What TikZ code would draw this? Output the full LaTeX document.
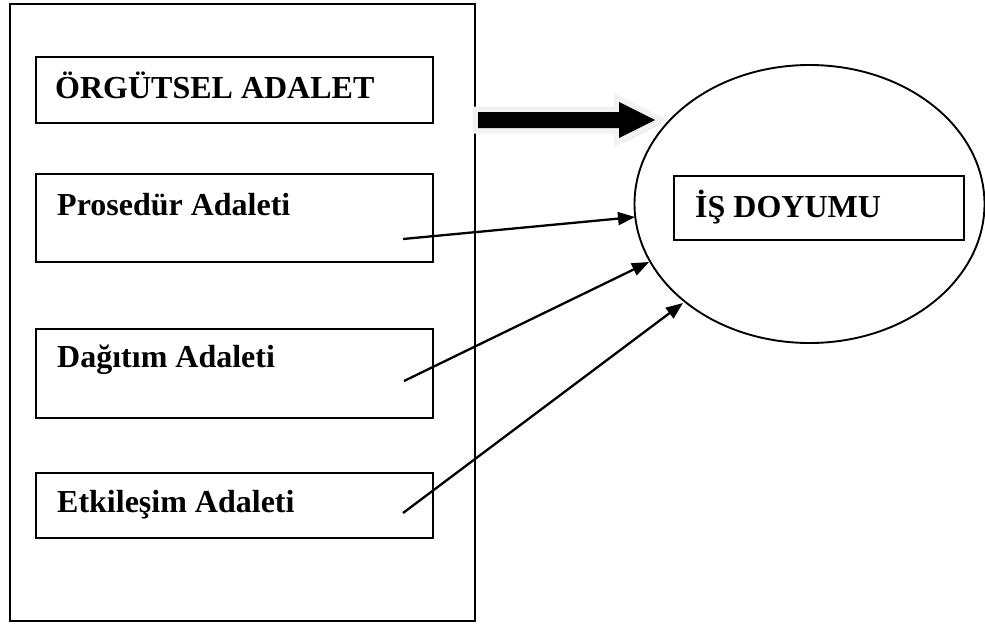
\documentclass[tikz,border=0pt]{standalone}
\usepackage{fontspec}
\setmainfont{Liberation Serif}
\usetikzlibrary{arrows.meta,shapes.geometric}
\begin{document}
\begin{tikzpicture}[x=1pt,y=-1pt,
  boxnode/.style={draw,line width=2.1pt,inner sep=0pt,anchor=north west},
  lbl/.style={anchor=base west,inner sep=0pt,font=\fontsize{32}{36}\selectfont\bfseries},
  conn/.style={line width=2.3pt,-{Triangle[length=17pt,width=13pt]}}]
\useasboundingbox (0,0) rectangle (985,624);
% outer frame
\node[boxnode,minimum width=465,minimum height=617] (frame) at (9,3) {};
% boxes
\node[boxnode,minimum width=397,minimum height=66] (title) at (35,56) {};
\node[lbl] (titletxt) at (55,98) {ÖRGÜTSEL ADALET};
\node[boxnode,minimum width=397,minimum height=88] (pros) at (35,173) {};
\node[lbl] (prostxt) at (57,215) {Prosedür Adaleti};
\node[boxnode,minimum width=397,minimum height=89] (dag) at (35,328) {};
\node[lbl] (dagtxt) at (57,367) {Dağıtım Adaleti};
\node[boxnode,minimum width=397,minimum height=65] (etk) at (35,472) {};
\node[lbl] (etktxt) at (57,512) {Etkileşim Adaleti};
% ellipse
\node[draw,ellipse,line width=1.9pt,inner sep=0pt,minimum width=350,minimum height=278] (ell) at (809.5,204) {};
\node[boxnode,minimum width=290,minimum height=64] (is) at (673,175) {};
\node[lbl] (istxt) at (695,217) {İŞ DOYUMU};
% big block arrow
\coordinate (ba) at (478,120);
\fill[gray!45] ([shift={(3,5)}]ba) ++(0,-8) -- ++(141,0) -- ++(0,-10) -- ++(36,18) -- ++(-36,18) -- ++(0,-10) -- ++(-141,0) -- cycle;
\draw[gray!10,fill=gray!10,line width=11pt,line join=miter] (ba) ++(0,-8) -- ++(141,0) -- ++(0,-10) -- ++(36,18) -- ++(-36,18) -- ++(0,-10) -- ++(-141,0) -- cycle;
\fill[black] (ba) ++(0,-8) -- ++(141,0) -- ++(0,-10) -- ++(36,18) -- ++(-36,18) -- ++(0,-10) -- ++(-141,0) -- cycle;
% connectors
\coordinate (s1) at (403,239);
\coordinate (e1) at (635,217);
\coordinate (s2) at (404,381);
\coordinate (e2) at (649,262);
\coordinate (s3) at (403,513);
\coordinate (e3) at (683,303);
\draw[conn] (s1) -- (e1);
\draw[conn] (s2) -- (e2);
\draw[conn] (s3) -- (e3);
\end{tikzpicture}
\end{document}
